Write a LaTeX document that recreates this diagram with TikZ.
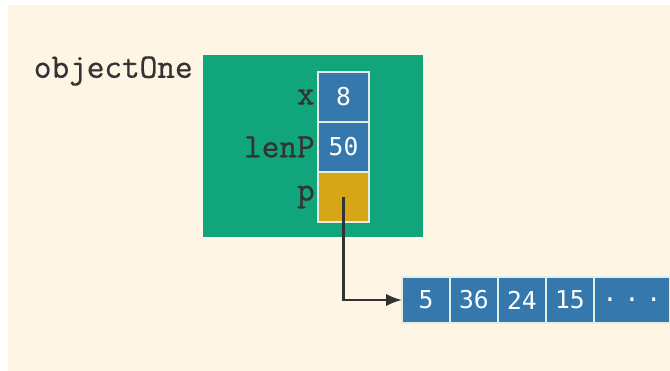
\documentclass[tikz,border=0pt]{standalone}
\usepackage{fontspec}
\newfontfamily\cellfont{DejaVu Sans Mono}
\newfontfamily\labelfont[FakeBold=0.8]{Latin Modern Mono}
\usetikzlibrary{positioning,arrows.meta}

\definecolor{paper}{RGB}{254,245,228}
\definecolor{objgreen}{RGB}{17,165,124}
\definecolor{cellblue}{RGB}{52,120,174}
\definecolor{cellyellow}{RGB}{214,166,22}
\definecolor{cellline}{RGB}{225,238,225}
\definecolor{arrowgray}{RGB}{50,50,50}

\tikzset{
    membercell/.style={draw=cellline, line width=1.1pt, fill=cellblue, outer sep=0pt,
        minimum width=1.02cm, minimum height=1cm, inner sep=0pt,
        text=white, font=\cellfont\fontsize{14}{14}\selectfont},
    arraycell/.style={membercell, minimum width=0.96cm, minimum height=0.92cm},
    varname/.style={font=\labelfont\fontsize{19.5}{19.5}\selectfont, text=black!80, inner sep=0pt}
}

\begin{document}
\begin{tikzpicture}[x=0.02cm,y=-0.02cm]
    % Page and background
    \useasboundingbox (0,0) rectangle (670,371);
    \fill[paper] (8,5) rectangle (670,371);

    % Object box
    \node[fill=objgreen, minimum width=4.4cm, minimum height=3.64cm, inner sep=0pt] (obj) at (313,146) {};
    \node[varname, anchor=east] (objname) at (193,71) {objectOne};

    % Member cells
    \node[membercell] (xcell) at (343.5,97) {8};
    \node[membercell, below=0pt of xcell] (lencell) {50};
    \node[membercell, below=0pt of lencell, fill=cellyellow] (pcell) {};

    % Member names
    \node[varname, anchor=east] (xname) at ([xshift=-0.06cm]xcell.west) {x};
    \node[varname, anchor=east] (lenname) at ([xshift=-0.06cm]lencell.west) {lenP};
    \node[varname, anchor=east] (pname) at ([xshift=-0.06cm]pcell.west) {p};

    % Dynamic array
    \node[arraycell, anchor=west] (a1) at (402,300) {5};
    \node[arraycell, right=0pt of a1] (a2) {36};
    \node[arraycell, right=0pt of a2] (a3) {24};
    \node[arraycell, right=0pt of a3] (a4) {15};
    \node[arraycell, right=0pt of a4, minimum width=1.52cm] (a5) {.\kern4pt.\kern4pt.};

    % Pointer
    \draw[arrowgray, line width=1.3pt, -{Latex[length=9pt,width=7pt]}] (pcell.center) |- (a1.west);
\end{tikzpicture}
\end{document}
